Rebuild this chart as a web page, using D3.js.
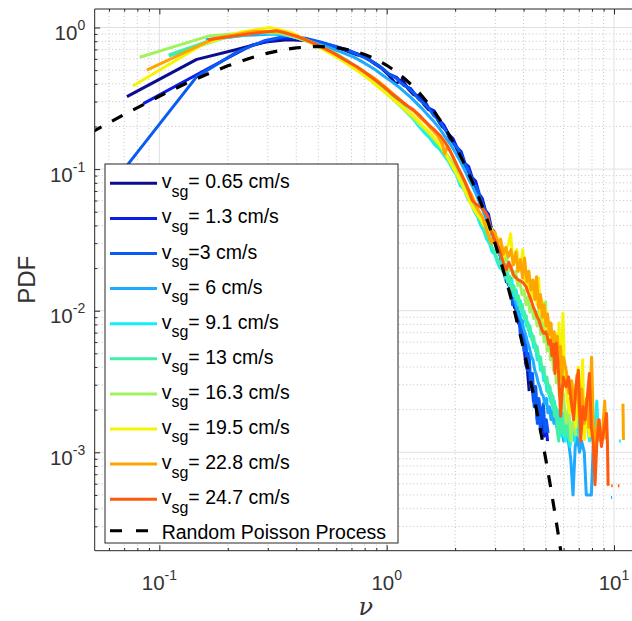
<!DOCTYPE html>
<html><head><meta charset="utf-8">
<script src="https://cdn.jsdelivr.net/npm/d3@7"></script>
<style>body{margin:0;background:#fff}svg{display:block}</style>
</head><body><svg id="c" width="632" height="621"></svg>
<script>
// ---------------- data ----------------
const seriesLabels = ["= 0.65 cm/s","= 1.3 cm/s","=3 cm/s","= 6 cm/s","= 9.1 cm/s","= 13 cm/s","= 16.3 cm/s","= 19.5 cm/s","= 22.8 cm/s","= 24.7 cm/s"];
const seriesColors = ["#0c0c8f","#0a1ee6","#0a5af5","#1eaaff","#12eefc","#40f0a4","#a2f260","#f8f400","#ffa500","#ff5a0c"];
const poissonLabel = "Random Poisson Process";

const s065 = [[0.072,0.325],[0.146,0.596],[0.219,0.70],[0.292,0.79],[0.365,0.82],[0.438,0.81],[0.511,0.77],[0.584,0.73],[0.657,0.69],[0.73,0.645],[0.803,0.625],[0.876,0.56],[0.949,0.515],[1.022,0.46],[1.095,0.40],[1.168,0.43],[1.241,0.37],[1.314,0.335],[1.387,0.33],[1.46,0.285],[1.533,0.262],[1.606,0.258],[1.679,0.222],[1.752,0.2],[1.825,0.19],[1.898,0.162],[1.971,0.155],[2.044,0.136],[2.117,0.124],[2.19,0.108],[2.263,0.101],[2.336,0.085],[2.409,0.08],[2.482,0.069],[2.555,0.063],[2.628,0.053],[2.701,0.05],[2.774,0.042],[2.847,0.04],[2.92,0.033],[2.993,0.032],[3.066,0.026],[3.139,0.026],[3.212,0.021],[3.285,0.021],[3.358,0.016],[3.431,0.017],[3.504,0.0132],[3.577,0.0128],[3.65,0.0105],[3.723,0.0102],[3.796,0.0082],[3.869,0.0078],[3.942,0.006],[4.015,0.0058],[4.088,0.0042],[4.161,0.0038],[4.234,0.0027]];
const s13 = [[0.085,0.29],[0.17,0.53],[0.255,0.75],[0.34,0.84],[0.425,0.83],[0.51,0.785],[0.595,0.735],[0.68,0.69],[0.765,0.64],[0.85,0.585],[0.935,0.53],[1.02,0.47],[1.105,0.445],[1.19,0.39],[1.275,0.37],[1.36,0.325],[1.445,0.315],[1.53,0.27],[1.615,0.258],[1.7,0.222],[1.785,0.205],[1.87,0.176],[1.955,0.165],[2.04,0.142],[2.125,0.133],[2.21,0.11],[2.295,0.104],[2.38,0.087],[2.465,0.082],[2.55,0.067],[2.635,0.062],[2.72,0.051],[2.805,0.048],[2.89,0.038],[2.975,0.036],[3.06,0.029],[3.145,0.028],[3.23,0.021],[3.315,0.021],[3.4,0.0158],[3.485,0.017],[3.57,0.012],[3.655,0.0128],[3.74,0.0088],[3.825,0.0095],[3.91,0.0066],[3.995,0.0072],[4.08,0.0047],[4.165,0.005],[4.25,0.0032],[4.335,0.0035],[4.42,0.0023],[4.505,0.0029],[4.59,0.0017],[4.675,0.0023],[4.76,0.0014],[4.845,0.0019],[4.93,0.0013],[5.015,0.0016],[5.1,0.0012]];
const s3 = [[0.07,0.10],[0.146,0.45],[0.219,0.67],[0.292,0.81],[0.365,0.87],[0.438,0.84],[0.511,0.79],[0.584,0.74],[0.657,0.70],[0.73,0.655],[0.803,0.61],[0.876,0.565],[0.949,0.52],[1.022,0.47],[1.095,0.44],[1.168,0.40],[1.241,0.375],[1.314,0.345],[1.387,0.31],[1.46,0.29],[1.533,0.268],[1.606,0.24],[1.679,0.225],[1.752,0.205],[1.825,0.185],[1.898,0.17],[1.971,0.15],[2.044,0.142],[2.117,0.128],[2.19,0.112],[2.263,0.102],[2.336,0.091],[2.409,0.08],[2.482,0.075],[2.555,0.066],[2.628,0.058],[2.701,0.052],[2.774,0.046],[2.847,0.041],[2.92,0.036],[2.993,0.032],[3.066,0.029],[3.139,0.025],[3.212,0.023],[3.285,0.02],[3.358,0.018],[3.431,0.0152],[3.504,0.017],[3.577,0.011],[3.65,0.0135],[3.723,0.0085],[3.796,0.0105],[3.869,0.0068],[3.942,0.0085],[4.015,0.0052],[4.088,0.0066],[4.161,0.0038],[4.234,0.0048],[4.307,0.0029],[4.38,0.0036],[4.453,0.0021],[4.526,0.0029],[4.599,0.0016],[4.672,0.0024],[4.745,0.0014],[4.818,0.002],[4.891,0.0022],[4.964,0.0014],[5.037,0.0017],[5.13,0.00137]];
const s6 = [[0.16,0.82],[0.24,0.88],[0.32,0.90],[0.40,0.86],[0.48,0.78],[0.56,0.72],[0.64,0.665],[0.72,0.615],[0.80,0.56],[0.88,0.51],[0.96,0.46],[1.04,0.42],[1.12,0.385],[1.2,0.35],[1.28,0.32],[1.36,0.29],[1.44,0.265],[1.52,0.24],[1.6,0.22],[1.68,0.2],[1.76,0.18],[1.84,0.162],[1.92,0.147],[2.0,0.132],[2.08,0.118],[2.16,0.105],[2.24,0.093],[2.32,0.082],[2.4,0.074],[2.48,0.066],[2.56,0.058],[2.64,0.052],[2.72,0.046],[2.8,0.041],[2.88,0.036],[2.96,0.032],[3.04,0.029],[3.12,0.0255],[3.2,0.023],[3.28,0.0205],[3.36,0.018],[3.44,0.0165],[3.52,0.0145],[3.6,0.013],[3.68,0.0115],[3.76,0.0102],[3.84,0.0092],[3.92,0.0085],[4.0,0.0075],[4.08,0.0068],[4.16,0.006],[4.24,0.0055],[4.32,0.0048],[4.4,0.0045],[4.48,0.0038],[4.56,0.0035],[4.64,0.0031],[4.72,0.0029],[4.8,0.0026],[4.88,0.0025],[4.96,0.0022],[5.04,0.0024],[5.12,0.0019],[5.2,0.0021],[5.28,0.0017],[5.36,0.002],[5.44,0.0016],[5.52,0.0019],[5.6,0.0015],[5.68,0.0018],[5.76,0.0014],[5.84,0.0017],[5.92,0.0016],[6.0,0.0012],[6.1,0.0014],[6.2,0.0018],[6.3,0.0012],[6.45,0.0009],[6.6,0.0005],[6.75,0.0011],[6.9,0.0013],[7.05,0.001],[7.2,0.0012],[7.4,0.001],[7.55,0.0005],[7.75,0.0005],[7.95,0.0005],[8.1,0.0011],[8.25,0.0012],[9.0,null],[9.7,0.00048],[9.8,0.00048]];
const s91 = [[0.11,0.63],[0.19,0.84],[0.27,0.92],[0.35,0.90],[0.43,0.82],[0.51,0.74],[0.59,0.66],[0.67,0.58],[0.75,0.51],[0.83,0.45],[0.91,0.40],[0.99,0.355],[1.07,0.315],[1.15,0.28],[1.23,0.25],[1.31,0.225],[1.39,0.2],[1.47,0.18],[1.55,0.165],[1.63,0.148],[1.71,0.138],[1.79,0.125],[1.87,0.113],[1.95,0.1],[2.03,0.09],[2.11,0.076],[2.19,0.072],[2.27,0.062],[2.35,0.057],[2.43,0.05],[2.51,0.046],[2.59,0.04],[2.67,0.037],[2.75,0.032],[2.83,0.03],[2.91,0.026],[2.99,0.025],[3.07,0.022],[3.15,0.02],[3.23,0.024],[3.31,0.017],[3.39,0.019],[3.47,0.015],[3.55,0.0165],[3.63,0.0128],[3.71,0.014],[3.79,0.011],[3.87,0.0118],[3.95,0.0092],[4.03,0.0098],[4.11,0.0078],[4.19,0.0082],[4.27,0.0066],[4.35,0.0069],[4.43,0.0055],[4.51,0.0058],[4.59,0.0045],[4.67,0.0048],[4.75,0.0038],[4.83,0.004],[4.91,0.0032],[4.99,0.0034],[5.07,0.0027],[5.15,0.003],[5.23,0.0023],[5.31,0.0026],[5.39,0.002],[5.47,0.0023],[5.55,0.0018],[5.63,0.002],[5.71,0.0015],[5.79,0.0018],[5.87,0.0013],[5.95,0.0016],[6.1,0.0012],[6.25,0.0017],[6.4,0.0011],[6.55,0.0015],[6.7,0.0012],[6.85,0.0019],[7.0,0.0013],[7.2,0.0021],[7.4,0.0014],[7.6,0.0019],[7.8,0.0012],[8.0,0.0017],[8.2,0.0013],[8.4,0.0023],[8.55,0.0012],[9.0,null],[10.5,0.0012],[10.7,0.0012]];
const s13b = [[0.11,0.64],[0.19,0.87],[0.27,0.93],[0.35,0.91],[0.43,0.83],[0.51,0.74],[0.59,0.66],[0.67,0.585],[0.75,0.515],[0.83,0.455],[0.91,0.405],[0.99,0.36],[1.07,0.32],[1.15,0.29],[1.23,0.26],[1.31,0.235],[1.39,0.21],[1.47,0.19],[1.55,0.172],[1.63,0.156],[1.71,0.142],[1.79,0.128],[1.87,0.116],[1.95,0.104],[2.03,0.094],[2.11,0.083],[2.19,0.075],[2.27,0.066],[2.35,0.06],[2.43,0.053],[2.51,0.048],[2.59,0.043],[2.67,0.039],[2.75,0.034],[2.83,0.031],[2.91,0.028],[2.99,0.026],[3.07,0.023],[3.15,0.021],[3.23,0.019],[3.31,0.021],[3.39,0.016],[3.47,0.0175],[3.55,0.014],[3.63,0.015],[3.71,0.012],[3.79,0.0128],[3.87,0.0102],[3.95,0.011],[4.03,0.0088],[4.11,0.0092],[4.19,0.0073],[4.27,0.0078],[4.35,0.0062],[4.43,0.0066],[4.51,0.0052],[4.59,0.0056],[4.67,0.0044],[4.75,0.0047],[4.83,0.0037],[4.91,0.004],[4.99,0.0031],[5.07,0.0034],[5.15,0.0026],[5.23,0.0029],[5.31,0.0022],[5.39,0.0025],[5.47,0.0018],[5.55,0.0021],[5.63,0.0014],[5.71,0.0012],[5.79,0.0017],[5.87,0.0014],[5.95,0.0019],[6.05,0.0013],[6.2,0.0016],[6.35,0.0012],[6.5,0.0014]];
const s163 = [[0.082,0.616],[0.164,0.87],[0.246,0.92],[0.328,0.93],[0.41,0.84],[0.492,0.75],[0.574,0.66],[0.656,0.575],[0.738,0.505],[0.82,0.445],[0.902,0.395],[0.984,0.35],[1.066,0.31],[1.148,0.278],[1.23,0.25],[1.312,0.228],[1.394,0.207],[1.476,0.19],[1.558,0.174],[1.64,0.16],[1.722,0.146],[1.804,0.132],[1.886,0.12],[1.968,0.108],[2.05,0.096],[2.132,0.086],[2.214,0.076],[2.296,0.068],[2.378,0.061],[2.46,0.054],[2.542,0.049],[2.624,0.044],[2.706,0.04],[2.788,0.036],[2.87,0.038],[2.952,0.031],[3.034,0.028],[3.116,0.03],[3.198,0.024],[3.28,0.022],[3.362,0.025],[3.444,0.019],[3.526,0.021],[3.608,0.017],[3.69,0.019],[3.772,0.015],[3.854,0.016],[3.936,0.013],[4.018,0.014],[4.1,0.011],[4.182,0.0125],[4.264,0.0098],[4.346,0.011],[4.428,0.0088],[4.51,0.0098],[4.592,0.0078],[4.674,0.0105],[4.756,0.0068],[4.838,0.0115],[4.92,0.006],[5.0,0.0115],[5.08,0.0052],[5.16,0.0085],[5.25,0.0045],[5.33,0.0062],[5.41,0.0038],[5.49,0.0048],[5.57,0.0031],[5.66,0.0039],[5.74,0.0025],[5.82,0.003],[5.9,0.002],[5.98,0.0026],[6.15,0.0016],[6.31,0.0021],[6.48,0.0012],[6.64,0.0018],[6.8,0.0013]];
const s195 = [[0.0764,0.386],[0.153,0.75],[0.229,0.93],[0.306,1.0],[0.382,0.92],[0.458,0.79],[0.535,0.69],[0.611,0.61],[0.688,0.54],[0.764,0.48],[0.84,0.43],[0.917,0.38],[0.993,0.345],[1.07,0.31],[1.146,0.285],[1.222,0.26],[1.3,0.24],[1.375,0.22],[1.45,0.2],[1.53,0.185],[1.6,0.17],[1.68,0.155],[1.76,0.14],[1.83,0.125],[1.91,0.11],[1.99,0.098],[2.06,0.088],[2.14,0.078],[2.22,0.069],[2.29,0.062],[2.37,0.055],[2.45,0.05],[2.52,0.047],[2.6,0.044],[2.68,0.04],[2.75,0.042],[2.83,0.036],[2.9,0.038],[2.98,0.031],[3.06,0.033],[3.13,0.027],[3.21,0.029],[3.29,0.024],[3.36,0.027],[3.44,0.03],[3.51,0.035],[3.59,0.022],[3.67,0.024],[3.74,0.027],[3.82,0.019],[3.9,0.021],[3.97,0.027],[4.05,0.016],[4.13,0.018],[4.2,0.014],[4.28,0.016],[4.36,0.012],[4.43,0.0135],[4.51,0.015],[4.58,0.011],[4.66,0.017],[4.74,0.0095],[4.81,0.012],[4.89,0.0085],[4.97,0.0105],[5.04,0.0075],[5.12,0.0088],[5.2,0.0065],[5.27,0.0072],[5.35,0.0052],[5.42,0.006],[5.5,0.0042],[5.58,0.0068],[5.65,0.0035],[5.73,0.0082],[5.81,0.0048],[5.88,0.0031],[5.96,0.0096],[6.04,0.0046],[6.2,0.0025],[6.35,0.0019],[6.5,0.0032],[6.65,0.0022],[6.8,0.0015],[6.95,0.004],[7.1,0.0019],[7.28,0.0045],[7.4,0.00123],[7.6,0.0018],[7.8,0.0013],[8.0,0.0021],[8.2,0.0012]];
const s228 = [[0.088,0.50],[0.176,0.84],[0.264,0.94],[0.352,0.93],[0.44,0.82],[0.528,0.72],[0.616,0.63],[0.704,0.55],[0.792,0.49],[0.88,0.44],[0.968,0.39],[1.056,0.345],[1.144,0.31],[1.232,0.28],[1.32,0.255],[1.408,0.23],[1.496,0.21],[1.584,0.19],[1.672,0.172],[1.76,0.15],[1.8,0.128],[1.85,0.145],[1.94,0.125],[2.02,0.108],[2.11,0.094],[2.2,0.082],[2.29,0.072],[2.38,0.064],[2.46,0.056],[2.55,0.05],[2.64,0.046],[2.73,0.039],[2.82,0.033],[2.9,0.03],[2.99,0.036],[3.08,0.03],[3.17,0.032],[3.26,0.025],[3.34,0.028],[3.43,0.024],[3.52,0.027],[3.61,0.021],[3.7,0.026],[3.78,0.019],[3.87,0.023],[3.96,0.017],[4.04,0.0236],[4.14,0.016],[4.22,0.019],[4.31,0.014],[4.4,0.0165],[4.49,0.012],[4.56,0.0174],[4.66,0.0105],[4.75,0.013],[4.84,0.009],[4.93,0.011],[5.02,0.0078],[5.1,0.0095],[5.19,0.0068],[5.28,0.0082],[5.37,0.0057],[5.46,0.0071],[5.54,0.0048],[5.63,0.0066],[5.72,0.0042],[5.81,0.0056],[5.9,0.0033],[5.98,0.0047],[6.16,0.0038],[6.33,0.0026],[6.51,0.0032],[6.69,0.0021],[6.86,0.0035],[7.04,0.0018],[7.22,0.0028],[7.39,0.0016],[7.57,0.0024],[7.74,0.0015],[7.97,0.0047],[8.1,0.0017],[8.3,0.0011],[8.5,0.0017],[8.7,0.0012],[8.9,0.0014],[9.1,0.0023],[9.2,0.00123],[10.0,null],[10.95,0.0022],[11.0,0.00122]];
const s247 = [[0.164,0.82],[0.246,0.90],[0.328,0.95],[0.41,0.86],[0.49,0.76],[0.574,0.67],[0.656,0.59],[0.738,0.53],[0.82,0.47],[0.9,0.42],[0.984,0.375],[1.066,0.335],[1.148,0.305],[1.23,0.28],[1.312,0.262],[1.394,0.24],[1.476,0.218],[1.558,0.2],[1.64,0.186],[1.722,0.172],[1.804,0.155],[1.886,0.138],[1.968,0.12],[2.05,0.104],[2.132,0.092],[2.214,0.081],[2.296,0.07],[2.378,0.06],[2.46,0.057],[2.542,0.055],[2.624,0.053],[2.706,0.05],[2.788,0.046],[2.87,0.037],[2.952,0.033],[3.034,0.03],[3.116,0.028],[3.198,0.024],[3.28,0.021],[3.362,0.0195],[3.444,0.022],[3.526,0.02],[3.608,0.018],[3.69,0.0172],[3.772,0.0166],[3.854,0.0163],[3.936,0.016],[4.018,0.0155],[4.1,0.0148],[4.182,0.0135],[4.264,0.0125],[4.346,0.0115],[4.428,0.0105],[4.51,0.0098],[4.592,0.009],[4.674,0.0086],[4.756,0.0078],[4.838,0.0072],[4.92,0.0069],[5.002,0.0071],[5.084,0.0066],[5.166,0.0058],[5.248,0.0062],[5.33,0.0048],[5.412,0.0058],[5.494,0.0036],[5.576,0.0059],[5.658,0.0045],[5.74,0.003],[5.822,0.0018],[5.904,0.0026],[5.986,0.0034],[6.15,0.0029],[6.31,0.0034],[6.48,0.0023],[6.64,0.0017],[6.8,0.0029],[6.97,0.0038],[7.13,0.0012],[7.3,0.0021],[7.46,0.0017],[7.62,0.0024],[7.79,0.0036],[7.95,0.0015],[8.1,0.00115],[8.25,0.00059],[8.4,0.00115],[8.6,0.0017],[8.8,0.0011],[9.0,0.0014],[9.27,0.00188],[9.35,0.0012],[9.42,0.00058],[9.6,null],[9.72,0.00058],[9.86,0.00058],[10.1,null],[10.4,0.00058],[10.56,0.00058]];
const seriesData = [s065, s13, s3, s6, s91, s13b, s163, s195, s228, s247];

const poissonNu  = [0.05,0.07,0.1,0.13,0.16,0.2,0.25,0.3,0.35,0.4,0.5,0.6,0.7,0.8,0.9,1.0,1.1,1.2,1.3,1.4,1.5,1.6,1.7,1.8,1.9,2.0,2.2,2.4,2.6,2.8,3.0,3.2,3.4,3.6,3.8,4.0,4.2,4.4,4.6,4.8,5.0,5.2,5.4,5.6,5.8,6.0];
const poissonPdf = [0.181,0.243,0.327,0.401,0.464,0.536,0.607,0.659,0.695,0.719,0.736,0.723,0.690,0.646,0.595,0.541,0.488,0.435,0.387,0.342,0.299,0.261,0.227,0.197,0.170,0.147,0.108,0.0790,0.0575,0.0415,0.0297,0.0213,0.0151,0.0108,0.00762,0.00537,0.00378,0.00265,0.00186,0.00130,0.000908,0.000634,0.000441,0.000307,0.000213,0.000147];

const xTickValues = [0.1, 1, 10];
const xTickExps = ["-1", "0", "1"];
const yTickValues = [1, 0.1, 0.01, 0.001];
const yTickExps = ["0", "-1", "-2", "-3"];
const xLabel = "\u03bd";
const yLabel = "PDF";

// ---------------- drawing ----------------
const svg = d3.select("#c");
const L = 94.7, R = 637, T = 9, B = 550.7;
const x = d3.scaleLog().domain([0.05194, 12.62]).range([L, R]);
const y = d3.scaleLog().domain([2.019e-4, 1.3512]).range([B, T]);
const font = "'Liberation Sans', Arial, Helvetica, sans-serif";
const axisColor = "#262626";

svg.append("rect").attr("width", 632).attr("height", 621).attr("fill", "#fff");

const xMinor = [], yMinor = [];
[0.01, 0.1, 1, 10].forEach(d => { for (let k = 2; k <= 9; k++) { const v = d * k; if (x(v) > L + 0.5 && x(v) < R) xMinor.push(v); } });
[1e-4, 1e-3, 1e-2, 0.1, 1].forEach(d => { for (let k = 2; k <= 9; k++) { const v = d * k; if (y(v) < B - 0.5 && y(v) > T) yMinor.push(v); } });

const grid = svg.append("g");
grid.selectAll("line.xm").data(xMinor).join("line")
  .attr("x1", d => x(d)).attr("x2", d => x(d)).attr("y1", T).attr("y2", B)
  .attr("stroke", "#c4c4c4").attr("stroke-width", 1).attr("stroke-dasharray", "1,2.5");
grid.selectAll("line.ym").data(yMinor).join("line")
  .attr("y1", d => y(d)).attr("y2", d => y(d)).attr("x1", L).attr("x2", R)
  .attr("stroke", "#c4c4c4").attr("stroke-width", 1).attr("stroke-dasharray", "1,2.5");
grid.selectAll("line.xM").data(xTickValues).join("line")
  .attr("x1", d => x(d)).attr("x2", d => x(d)).attr("y1", T).attr("y2", B)
  .attr("stroke", "#e0e0e0").attr("stroke-width", 1);
grid.selectAll("line.yM").data(yTickValues).join("line")
  .attr("y1", d => y(d)).attr("y2", d => y(d)).attr("x1", L).attr("x2", R)
  .attr("stroke", "#e0e0e0").attr("stroke-width", 1);

svg.append("clipPath").attr("id", "clip").append("rect")
  .attr("x", L).attr("y", T).attr("width", R - L).attr("height", B - T);
const plot = svg.append("g").attr("clip-path", "url(#clip)");
const line = d3.line().defined(d => d[1] != null).x(d => x(d[0])).y(d => y(d[1]));
seriesData.forEach((s, i) => {
  plot.append("path").attr("d", line(s)).attr("fill", "none")
    .attr("stroke", seriesColors[i]).attr("stroke-width", 3)
    .attr("stroke-linejoin", "round");
});
const poisson = poissonNu.map((v, i) => [v, poissonPdf[i]]);
plot.append("path").attr("d", line(poisson)).attr("fill", "none")
  .attr("stroke", "#000").attr("stroke-width", 3.2).attr("stroke-dasharray", "12,12");

function ticks(axisGen, vals, size, transform) {
  const g = svg.append("g").attr("transform", transform)
    .call(axisGen.tickValues(vals).tickSize(size).tickFormat(""));
  g.select(".domain").remove();
  g.selectAll("line").attr("stroke", axisColor);
}
ticks(d3.axisLeft(y), yTickValues, -5.4, `translate(${L},0)`);
ticks(d3.axisLeft(y), yMinor, -2.7, `translate(${L},0)`);
ticks(d3.axisBottom(x), xTickValues.filter(v => x(v) < R), -5.4, `translate(0,${B})`);
ticks(d3.axisBottom(x), xMinor, -2.7, `translate(0,${B})`);
ticks(d3.axisTop(x), xTickValues.filter(v => x(v) < R), -5.4, `translate(0,${T})`);
ticks(d3.axisTop(x), xMinor, -2.7, `translate(0,${T})`);

svg.append("line").attr("x1", L).attr("x2", L).attr("y1", T).attr("y2", B).attr("stroke", axisColor);
svg.append("line").attr("x1", L).attr("x2", R).attr("y1", B).attr("y2", B).attr("stroke", axisColor);
svg.append("line").attr("x1", L).attr("x2", R).attr("y1", T).attr("y2", T).attr("stroke", axisColor);
svg.append("line").attr("x1", R).attr("x2", R).attr("y1", T).attr("y2", B).attr("stroke", axisColor);

const tickColor = "#333";
yTickValues.forEach((v, i) => {
  const t = svg.append("text").attr("x", L - 9.5).attr("y", y(v) + 12.5)
    .attr("text-anchor", "end").attr("font-family", font).attr("fill", tickColor);
  t.append("tspan").attr("font-size", 20.5).text("10");
  t.append("tspan").attr("font-size", 14).attr("dy", -10).text(yTickExps[i]);
});
xTickValues.forEach((v, i) => {
  const t = svg.append("text").attr("x", x(v)).attr("y", B + 39.5)
    .attr("text-anchor", "middle").attr("font-family", font).attr("fill", tickColor);
  t.append("tspan").attr("font-size", 20.5).text("10");
  t.append("tspan").attr("font-size", 14).attr("dy", -10).text(xTickExps[i]);
});

svg.append("text").attr("x", (L + R) / 2).attr("y", 615).attr("text-anchor", "middle")
  .attr("font-family", "'DejaVu Serif', serif").attr("font-style", "italic")
  .attr("font-size", 24).attr("fill", tickColor).text(xLabel);
svg.append("text").attr("transform", `translate(35,${(T + B) / 2}) rotate(-90)`)
  .attr("text-anchor", "middle").attr("font-family", font).attr("font-size", 24)
  .attr("fill", tickColor).text(yLabel);

const lg = svg.append("g");
lg.append("rect").attr("x", 105).attr("y", 164).attr("width", 293).attr("height", 379)
  .attr("fill", "#fff").attr("stroke", axisColor).attr("stroke-width", 1);
seriesLabels.forEach((lab, i) => {
  const ry = 183.3 + i * 35.1;
  lg.append("line").attr("x1", 110).attr("x2", 157).attr("y1", ry).attr("y2", ry)
    .attr("stroke", seriesColors[i]).attr("stroke-width", 3);
  const t = lg.append("text").attr("x", 161.7).attr("y", ry + 5)
    .attr("font-family", font).attr("font-size", 19.5).attr("fill", "#000");
  t.append("tspan").text("v");
  t.append("tspan").attr("font-size", 16).attr("dy", 8.4).text("sg");
  t.append("tspan").attr("dy", -8.4).text(lab);
});
const py = 530.7;
lg.append("line").attr("x1", 110).attr("x2", 157).attr("y1", py).attr("y2", py)
  .attr("stroke", "#000").attr("stroke-width", 3).attr("stroke-dasharray", "12,14");
lg.append("text").attr("x", 161.7).attr("y", py + 8.3).attr("font-family", font)
  .attr("font-size", 19.5).attr("fill", "#000").text(poissonLabel);
</script>
</body></html>
